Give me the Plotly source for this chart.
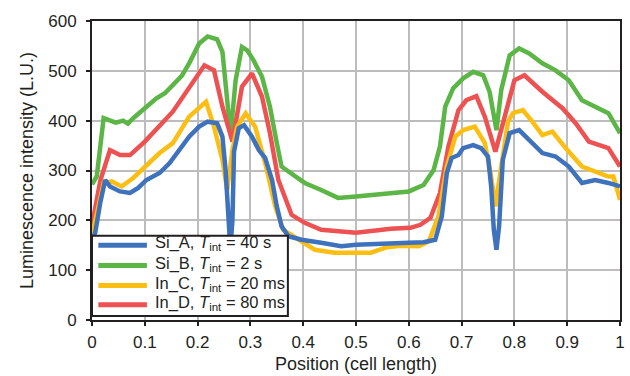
import plotly.graph_objects as go

# Si_B (green)
x_b = [0.0, 0.009, 0.022, 0.034, 0.045, 0.059, 0.068, 0.078, 0.1, 0.122, 0.138, 0.153, 0.17, 0.184, 0.203, 0.219, 0.237, 0.247, 0.256, 0.2625,
       0.272, 0.284, 0.294, 0.306, 0.322, 0.337, 0.35, 0.359, 0.372, 0.403, 0.434, 0.45, 0.466, 0.5,
       0.534, 0.566, 0.6, 0.628, 0.647, 0.659, 0.669, 0.684, 0.703, 0.722, 0.741, 0.753, 0.766, 0.775,
       0.791, 0.809, 0.828, 0.853, 0.878, 0.903, 0.928, 0.953, 0.978, 1.0]
y_b = [272, 288, 405, 401, 396, 400, 394, 405, 425, 445, 455, 471, 490, 515, 555, 569, 563, 538, 441, 372,
       481, 548, 541, 521, 488, 428, 355, 308, 298, 275, 261, 252, 245, 248,
       251, 255, 258, 271, 301, 348, 428, 465, 485, 498, 491, 458, 381, 461,
       531, 545, 535, 515, 501, 481, 441, 428, 415, 375]

# In_D (red)
x_d = [0.0, 0.016, 0.034, 0.053, 0.072, 0.1, 0.153, 0.184, 0.213, 0.231, 0.247, 0.266, 0.284, 0.303, 0.322, 0.337,
       0.353, 0.378, 0.403, 0.434, 0.5, 0.566, 0.603, 0.622, 0.641, 0.659, 0.675, 0.694, 0.709, 0.728, 0.744,
       0.764, 0.781, 0.8, 0.819, 0.853, 0.891, 0.916, 0.941, 0.978, 1.0]
y_d = [190, 281, 341, 331, 331, 358, 418, 468, 511, 501, 428, 358, 468, 495, 448, 375,
       281, 211, 195, 181, 175, 183, 185, 191, 205, 255, 348, 421, 441, 449, 408,
       338, 408, 481, 491, 458, 425, 395, 358, 345, 308]

# In_C (yellow)
x_c = [0.0, 0.022, 0.0375, 0.056, 0.078, 0.1, 0.128, 0.153, 0.184, 0.216, 0.231, 0.247, 0.256, 0.266, 0.275, 0.291,
       0.309, 0.328, 0.347, 0.362, 0.391, 0.422, 0.459, 0.5, 0.528, 0.559, 0.584, 0.619, 0.638, 0.656, 0.672,
       0.688, 0.703, 0.725, 0.744, 0.754, 0.764, 0.775, 0.788, 0.797, 0.816, 0.834, 0.853, 0.872, 0.897,
       0.928, 0.953, 0.978, 0.9875, 1.0]
y_c = [170, 275, 278, 268, 285, 308, 335, 355, 408, 438, 388, 321, 261, 341, 388, 415,
       388, 315, 228, 181, 161, 141, 135, 135, 135, 146, 149, 148, 158, 208, 308,
       368, 381, 388, 355, 301, 228, 308, 398, 415, 421, 398, 371, 378, 345,
       308, 298, 288, 288, 241]

# Si_A (blue)
x_a = [0.0, 0.006, 0.0156, 0.025, 0.034, 0.053, 0.072, 0.0875, 0.103, 0.128, 0.147, 0.166, 0.184, 0.203, 0.219,
       0.237, 0.247, 0.253, 0.259, 0.262, 0.266, 0.269, 0.278, 0.288, 0.303, 0.316, 0.328, 0.341, 0.35, 0.359,
       0.372, 0.397, 0.434, 0.472, 0.5, 0.534, 0.566, 0.6, 0.628, 0.65, 0.6625, 0.672, 0.681, 0.694, 0.703,
       0.722, 0.737, 0.75, 0.756, 0.761, 0.766, 0.771, 0.778, 0.791, 0.809, 0.828, 0.853, 0.878, 0.903,
       0.928, 0.953, 0.978, 1.0]
y_a = [160, 175, 235, 281, 268, 258, 255, 265, 281, 295, 315, 341, 368, 388, 398,
       395, 368, 301, 175, 145, 200, 338, 385, 391, 368, 341, 325, 281, 228, 188,
       168, 161, 155, 148, 151, 153, 153, 155, 156, 161, 208, 295, 325, 331, 345,
       351, 345, 328, 268, 181, 141, 188, 321, 375, 381, 361, 335, 328, 308,
       275, 281, 275, 268]

names = ["Si_A, <i>T</i><sub>int</sub> = 40 s",
         "Si_B, <i>T</i><sub>int</sub> = 2 s",
         "In_C, <i>T</i><sub>int</sub> = 20 ms",
         "In_D, <i>T</i><sub>int</sub> = 80 ms"]
colors = ["#3f72bd", "#5bb646", "#fdbe14", "#ed5152"]
INK = "#231f20"

fig = go.Figure()
series = [(x_b, y_b, 1), (x_d, y_d, 3), (x_c, y_c, 2), (x_a, y_a, 0)]
for xs, ys, i in series:
    fig.add_trace(go.Scatter(x=xs, y=ys, mode="lines", name=names[i], showlegend=False,
                             line=dict(color=colors[i], width=4.5)))

# legend drawn as a box with line samples and rich-text labels (paper coordinates)
shapes = [dict(type="rect", xref="paper", yref="paper", x0=0.0, x1=0.371, y0=0.013, y1=0.282,
               fillcolor="white", line=dict(color=INK, width=2), layer="above")]
annotations = []
row_y = [0.250, 0.182, 0.115, 0.051]
for i, name in enumerate(names):
    shapes.append(dict(type="line", xref="paper", yref="paper", x0=0.012, x1=0.104,
                       y0=row_y[i], y1=row_y[i], line=dict(color=colors[i], width=5), layer="above"))
    annotations.append(dict(xref="paper", yref="paper", x=0.116, y=row_y[i], text=name,
                            xanchor="left", yanchor="middle", showarrow=False, yshift=2,
                            font=dict(size=16.5, color=INK)))

axis_common = dict(showline=True, linecolor=INK, linewidth=2, mirror=True,
                   showgrid=True, gridcolor="#bdbdbd", gridwidth=1.5,
                   ticks="outside", ticklen=4, tickwidth=1.5, tickcolor=INK,
                   tickfont=dict(size=17, color=INK), zeroline=False)

fig.update_layout(
    width=630, height=376,
    margin=dict(l=92, r=5, t=21, b=54),
    paper_bgcolor="white", plot_bgcolor="white",
    font=dict(family="Liberation Sans, Arial, sans-serif", color=INK),
    xaxis=dict(range=[0, 1], dtick=0.1, ticklabelstandoff=2,
               title=dict(text="Position (cell length)", font=dict(size=18), standoff=6),
               **axis_common),
    yaxis=dict(range=[0, 600], dtick=100, ticklabelstandoff=6,
               title=dict(text="Luminescence intensity (L.U.)", font=dict(size=18), standoff=10),
               **axis_common),
    shapes=shapes,
    annotations=annotations,
    showlegend=False,
)

fig.write_html("out.html")
